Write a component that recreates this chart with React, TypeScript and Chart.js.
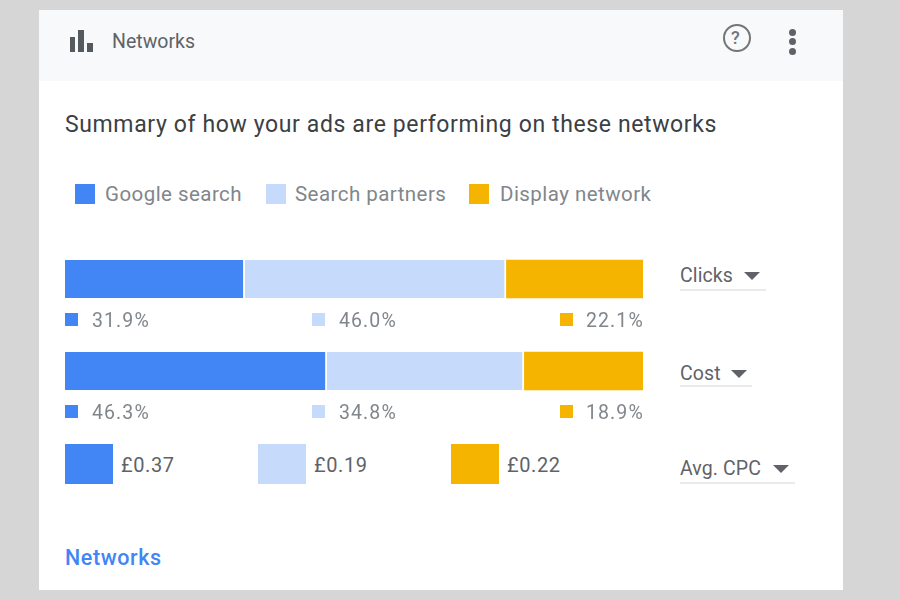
import { useEffect, useRef } from 'react';
import { Chart, registerables } from 'chart.js';

Chart.register(...registerables);

const metrics = ['Clicks', 'Cost'];
const seriesNames = ['Google search', 'Search partners', 'Display network'];
const seriesColors = ['#4285f4', '#c6dafc', '#f4b400'];

// bar lengths as drawn in the picture, they differ a bit from the printed labels
const googleSearch = [31.1, 45.3];
const searchPartners = [45.2, 34.1];
const displayNetwork = [23.7, 20.6];

const clicksLabels = ['31.9%', '46.0%', '22.1%'];
const costLabels = ['46.3%', '34.8%', '18.9%'];
const avgCpcLabels = ['£0.37', '£0.19', '£0.22'];

const FONT = 'Roboto, sans-serif';
const GREY = '#80868b';
const DARK = '#5f6368';

const at = (x: number, cy: number, size: number, color: string, extra = {}) => ({
	position: 'absolute' as const,
	left: x,
	top: cy - 15,
	height: 30,
	lineHeight: '30px',
	fontSize: size,
	color,
	whiteSpace: 'nowrap' as const,
	...extra,
});

const Box = ({ x, y, w, h, color, extra = {} }: any) => (
	<div
		style={{
			position: 'absolute',
			left: x,
			top: y,
			width: w,
			height: h,
			background: color,
			...extra,
		}}
	/>
);

const Arrow = ({ x, y }: { x: number; y: number }) => (
	<div
		style={{
			position: 'absolute',
			left: x,
			top: y,
			width: 0,
			height: 0,
			borderLeft: '8px solid transparent',
			borderRight: '8px solid transparent',
			borderTop: '8px solid #5f6368',
		}}
	/>
);

const Dropdown = ({ label, cy, arrowX, lineY, lineEnd }: any) => (
	<>
		<div style={at(680, cy + 1, 19.5, DARK, { letterSpacing: 0.1 })}>{label}</div>
		<Arrow x={arrowX} y={cy - 3} />
		<Box x={680} y={lineY} w={lineEnd - 680} h={2} color='#e8eaed' />
	</>
);

const percentX = [92, 339, 586];
const swatchX = [65, 312, 560];
const cpcX = [65, 258, 451];
const legendSwatchX = [75, 266, 469];
const legendTextX = [105, 295, 500];

const PercentRow = ({ labels, cy }: { labels: string[]; cy: number }) => (
	<>
		{labels.map((label, i) => (
			<div key={label}>
				<Box x={swatchX[i]} y={cy - 7} w={13} h={13} color={seriesColors[i]} />
				<div style={at(percentX[i], cy + 1, 19.5, GREY, { letterSpacing: 1.1 })}>
					{label}
				</div>
			</div>
		))}
	</>
);

export default function App() {
	const chartRef = useRef<HTMLCanvasElement>(null);

	useEffect(() => {
		const chartInstance = new Chart(chartRef.current!, {
			type: 'bar',
			data: {
				labels: metrics,
				datasets: [googleSearch, searchPartners, displayNetwork].map(
					(values, i) => ({
						label: seriesNames[i],
						data: values,
						backgroundColor: seriesColors[i],
						borderColor: '#ffffff',
						borderWidth: { top: 0, bottom: 0, left: 0, right: i < 2 ? 2 : 0 },
						borderSkipped: false,
						barThickness: 38,
					})
				),
			},
			options: {
				indexAxis: 'y',
				animation: false,
				responsive: false,
				layout: { padding: 0 },
				plugins: {
					legend: { display: false },
					tooltip: { enabled: false },
				},
				scales: {
					x: { stacked: true, min: 0, max: 100, display: false },
					y: { stacked: true, display: false },
				},
			},
		});

		return () => {
			chartInstance.destroy();
		};
	}, []);

	return (
		<div
			style={{
				position: 'fixed',
				left: 0,
				top: 0,
				width: 900,
				height: 600,
				overflow: 'hidden',
				background: '#d6d6d6',
				fontFamily: FONT,
				filter: 'blur(0.4px)',
			}}
		>
			<Box x={39} y={10} w={804} h={580} color='#ffffff' />
			<Box x={39} y={10} w={804} h={71} color='#f8f9fa' />

			<Box x={70} y={37} w={5} h={15} color='#555a5e' />
			<Box x={78} y={30} w={6} h={22} color='#555a5e' />
			<Box x={87} y={43} w={6} h={9} color='#555a5e' />
			<div style={at(112, 42, 19.5, DARK)}>Networks</div>

			<Box
				x={723}
				y={24}
				w={28}
				h={28}
				color='transparent'
				extra={{ border: '2px solid #757575', borderRadius: '50%', boxSizing: 'border-box' }}
			/>
			<div style={at(731, 38, 18, '#757575', { fontWeight: 500 })}>?</div>
			{[32, 41, 51].map((y) => (
				<Box
					key={y}
					x={789}
					y={y - 3.5}
					w={7}
					h={7}
					color='#5f6368'
					extra={{ borderRadius: '50%' }}
				/>
			))}

			<div style={at(65, 124.5, 23, '#3c4043', { letterSpacing: 0.62 })}>
				Summary of how your ads are performing on these networks
			</div>

			{seriesNames.map((name, i) => (
				<div key={name}>
					<Box x={legendSwatchX[i]} y={184} w={20} h={20} color={seriesColors[i]} />
					<div style={at(legendTextX[i], 194, 20.5, GREY, { letterSpacing: 0.45 })}>{name}</div>
				</div>
			))}

			<div style={{ position: 'absolute', left: 65, top: 233, width: 578, height: 184 }}>
				<canvas ref={chartRef} width={578} height={184} style={{ display: 'block' }} />
			</div>

			<PercentRow labels={clicksLabels} cy={320} />
			<PercentRow labels={costLabels} cy={412} />

			{avgCpcLabels.map((label, i) => (
				<div key={label}>
					<Box x={cpcX[i]} y={444} w={48} h={40} color={seriesColors[i]} />
					<div style={at(cpcX[i] + 56, 465, 20, DARK, { letterSpacing: 0.6 })}>{label}</div>
				</div>
			))}

			<Dropdown label='Clicks' cy={275} arrowX={744} lineY={289} lineEnd={766} />
			<Dropdown label='Cost' cy={373} arrowX={731} lineY={385} lineEnd={752} />
			<Dropdown label='Avg. CPC' cy={468} arrowX={773} lineY={482} lineEnd={795} />

			<div style={at(65, 558, 21.5, '#4285f4', { fontWeight: 500, letterSpacing: 0.6 })}>Networks</div>
		</div>
	);
}
